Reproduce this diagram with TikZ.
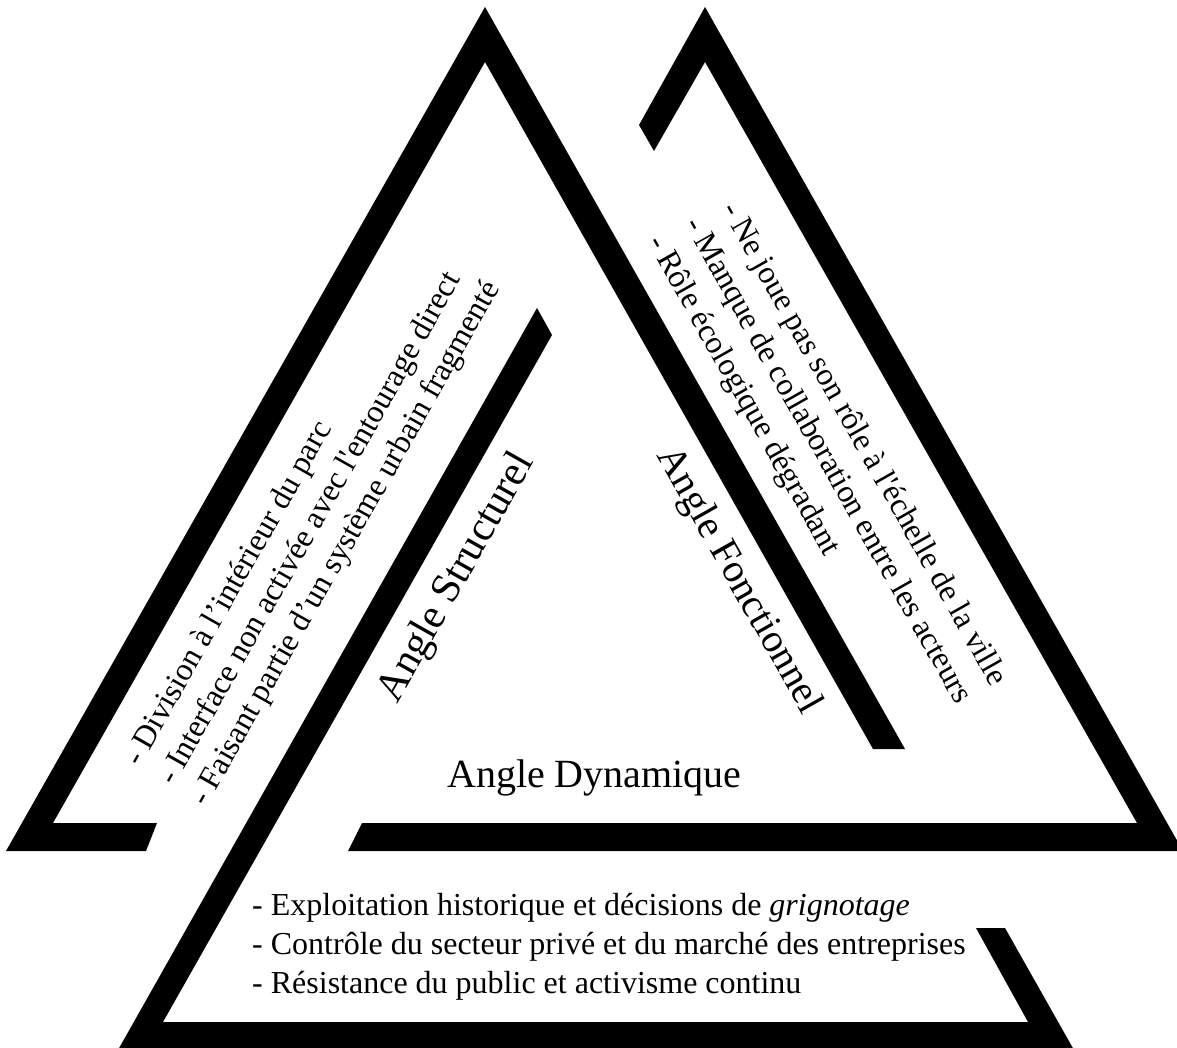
\documentclass[tikz,border=0pt]{standalone}
\usepackage{fontspec}
\setmainfont{Liberation Serif}
\begin{document}
\begin{tikzpicture}[x=1pt,y=-1pt,
  bar/.style={fill=black},
  lbl/.style={font=\fontsize{40}{48}\selectfont, inner sep=0pt},
  item/.style={font=\fontsize{32}{38}\selectfont, inner sep=0pt, anchor=base west}]
\useasboundingbox (0,0) rectangle (1177,1048);
\begin{scope}
\clip (0,0) rectangle (1177,1048);
% piece 1 (left apex)
\fill[bar] (146,851) -- (6,851) -- (485,7) -- (905,749) -- (873,749) -- (485,62) -- (53,823) -- (157,823) -- cycle;
% piece 2 (right apex)
\fill[bar] (639,125) -- (705,7) -- (1183,851) -- (348,851) -- (362,823) -- (1137,823) -- (705,62) -- (654,151) -- cycle;
% piece 3 (bottom)
\fill[bar] (537,308) -- (118,1050) -- (1074,1050) -- (1005,928) -- (976,928) -- (1028,1022) -- (163,1022) -- (552,335) -- cycle;
\end{scope}
% angle labels
\node[lbl, font=\fontsize{42}{50}\selectfont, rotate=60.5] (struct) at (457,578) {Angle Structurel};
\node[lbl, rotate=-60.5] (fonct) at (738,581) {Angle Fonctionnel};
\node[lbl, anchor=base west] (dyn) at (447,787) {Angle Dynamique};
% left list
\node[item, rotate=60.5] (s1) at (140,768) {- Division à l’intérieur du parc};
\node[item, rotate=60.5] (s2) at (174,787) {- Interface non activée avec l\textquotesingle entourage direct};
\node[item, rotate=60.5] (s3) at (206,808) {- Faisant partie d’un système urbain fragmenté};
% right list
\node[item, rotate=-60.5] (f1) at (721,209) {- Ne joue pas son rôle à l\textquotesingle échelle de la ville};
\node[item, rotate=-60.5] (f2) at (684,224) {- Manque de collaboration entre les acteurs};
\node[item, rotate=-60.5] (f3) at (647,242) {- Rôle écologique dégradant};
% bottom list
\node[item] (d1) at (252,915) {- Exploitation historique et décisions de \textit{grignotage}};
\node[item] (d2) at (252,954) {- Contrôle du secteur privé et du marché des entreprises};
\node[item] (d3) at (252,993) {- Résistance du public et activisme continu};
\end{tikzpicture}
\end{document}
